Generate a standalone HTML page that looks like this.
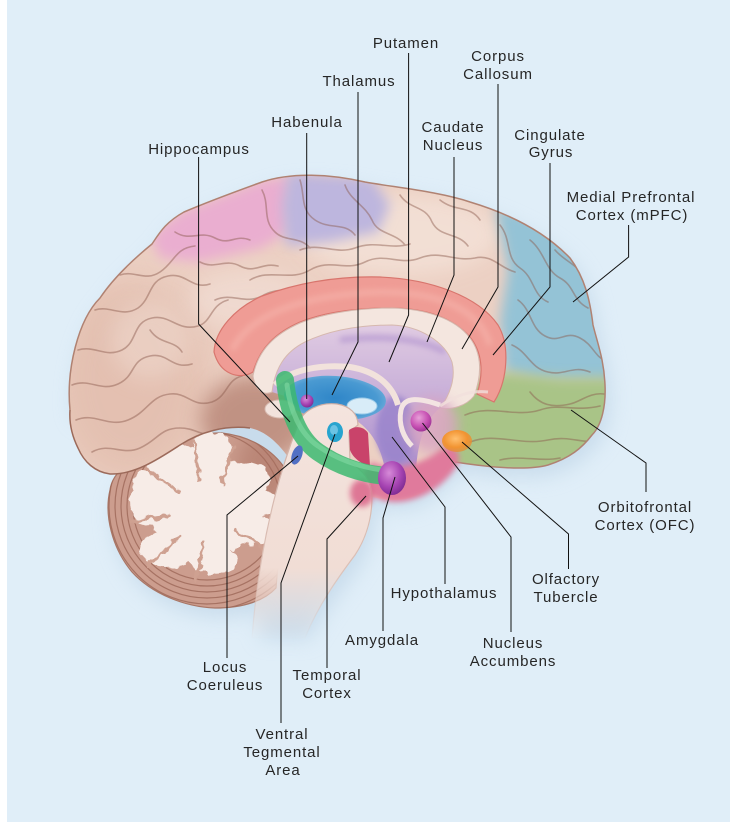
<!DOCTYPE html>
<html><head><meta charset="utf-8">
<style>
html,body{margin:0;padding:0;background:#e0eef8;overflow:hidden;}
svg{display:block;}
text{font-family:"Liberation Sans",Arial,sans-serif;font-size:15px;fill:#262626;letter-spacing:0.9px;text-anchor:middle;}
</style></head><body>
<svg width="730" height="824" viewBox="0 0 730 824" xmlns="http://www.w3.org/2000/svg">
<defs>
 <filter id="b3" x="-50%" y="-50%" width="200%" height="200%"><feGaussianBlur stdDeviation="3"/></filter>
 <filter id="b6" x="-50%" y="-50%" width="200%" height="200%"><feGaussianBlur stdDeviation="6"/></filter>
 <filter id="b10" x="-50%" y="-50%" width="200%" height="200%"><feGaussianBlur stdDeviation="10"/></filter>
 <filter id="b18" x="-50%" y="-50%" width="200%" height="200%"><feGaussianBlur stdDeviation="18"/></filter>
 <filter id="rough" x="-20%" y="-20%" width="140%" height="140%">
  <feTurbulence type="fractalNoise" baseFrequency="0.11" numOctaves="2" seed="4"/>
  <feDisplacementMap in="SourceGraphic" scale="9" xChannelSelector="R" yChannelSelector="G"/>
 </filter>
 <clipPath id="cer"><path d="M 70 410 C 66 370 78 320 100 298 C 112 280 130 262 152 244 C 160 232 166 222 184 212 C 212 200 240 190 262 182 C 292 172 330 174 365 182 C 400 188 440 192 470 202 C 510 214 545 232 570 258 C 585 278 590 300 593 325 C 598 345 604 360 605 385 C 606 405 602 425 592 435 C 582 448 570 458 548 465 C 530 470 500 469 455 462 C 440 480 420 500 395 500 C 372 500 360 492 350 482 L 300 475 C 285 450 270 432 250 428 C 225 425 200 432 180 445 C 160 458 135 475 110 474 C 95 472 84 462 78 448 C 72 436 69 424 70 410 Z"/></clipPath>
 <clipPath id="cbl"><path d="M 110 490 C 104 515 112 548 132 572 C 152 594 185 607 215 608 C 245 608 265 600 276 588 L 286 470 C 272 448 248 436 222 433 C 192 432 152 448 128 464 C 116 472 111 482 110 490 Z"/></clipPath>
 <linearGradient id="bsg" gradientUnits="userSpaceOnUse" x1="0" y1="400" x2="0" y2="640">
  <stop offset="0" stop-color="#f4e4de"/>
  <stop offset="0.7" stop-color="#f1ddd5"/>
  <stop offset="1" stop-color="#f1ddd5" stop-opacity="0"/>
 </linearGradient>
 <linearGradient id="bse" gradientUnits="userSpaceOnUse" x1="0" y1="400" x2="0" y2="640">
  <stop offset="0" stop-color="#cfaea4"/>
  <stop offset="0.7" stop-color="#dcc0b6"/>
  <stop offset="1" stop-color="#dcc0b6" stop-opacity="0"/>
 </linearGradient>
 <linearGradient id="purp" x1="0" y1="0" x2="0" y2="1">
  <stop offset="0" stop-color="#e0cbe2"/>
  <stop offset="0.5" stop-color="#c7aed8"/>
  <stop offset="1" stop-color="#a88ccc"/>
 </linearGradient>
 <radialGradient id="thal" cx="0.5" cy="0.5" r="0.6">
  <stop offset="0" stop-color="#2f86c8"/>
  <stop offset="0.7" stop-color="#4a9ad2"/>
  <stop offset="1" stop-color="#7fb6de"/>
 </radialGradient>
 <radialGradient id="dotp" cx="0.4" cy="0.35" r="0.7">
  <stop offset="0" stop-color="#d68ad8"/>
  <stop offset="0.6" stop-color="#a644b2"/>
  <stop offset="1" stop-color="#7b2a90"/>
 </radialGradient>
 <radialGradient id="dotm" cx="0.4" cy="0.35" r="0.7">
  <stop offset="0" stop-color="#e7a0d8"/>
  <stop offset="0.6" stop-color="#c852b4"/>
  <stop offset="1" stop-color="#9a3092"/>
 </radialGradient>
 <radialGradient id="doto" cx="0.45" cy="0.4" r="0.65">
  <stop offset="0" stop-color="#ffc070"/>
  <stop offset="0.6" stop-color="#f29432"/>
  <stop offset="1" stop-color="#e8862a" stop-opacity="0.6"/>
 </radialGradient>
</defs>

<rect width="730" height="824" fill="#e0eef8"/>
<rect width="7" height="824" fill="#ffffff"/>
<rect y="822" width="730" height="2" fill="#ffffff"/>

<!-- shadows -->
<g fill="#b9d0e4" opacity="0.6" filter="url(#b10)" transform="translate(5,9)">
 <path d="M 70 410 C 66 370 78 320 100 298 C 112 280 130 262 152 244 C 160 232 166 222 184 212 C 212 200 240 190 262 182 C 292 172 330 174 365 182 C 400 188 440 192 470 202 C 510 214 545 232 570 258 C 585 278 590 300 593 325 C 598 345 604 360 605 385 C 606 405 602 425 592 435 C 582 448 570 458 548 465 C 530 470 500 469 455 462 C 440 480 420 500 395 500 C 372 500 360 492 350 482 L 300 475 Z"/>
 <path d="M 110 490 C 104 515 112 548 132 572 C 152 594 185 607 215 608 C 245 608 265 600 276 588 L 286 470 C 272 448 248 436 222 433 C 192 432 152 448 128 464 Z"/>
 <path d="M 298 425 L 372 470 C 374 520 362 550 345 570 C 330 590 315 610 305 630 L 255 630 C 258 580 265 540 275 500 Z"/>
</g>

<!-- cerebellum -->
<path d="M 110 490 C 104 515 112 548 132 572 C 152 594 185 607 215 608 C 245 608 265 600 276 588 L 286 470 C 272 448 248 436 222 433 C 192 432 152 448 128 464 C 116 472 111 482 110 490 Z" fill="#cc9d8e" stroke="#a87666" stroke-width="1.2"/>
<g clip-path="url(#cbl)" fill="none" stroke="#9a6454" stroke-width="1.2" opacity="0.75">
 <circle cx="207" cy="506" r="74"/>
 <circle cx="207" cy="506" r="80"/>
 <circle cx="207" cy="506" r="86"/>
 <circle cx="207" cy="506" r="92"/>
 <circle cx="207" cy="506" r="98"/>
 <circle cx="207" cy="506" r="104"/>
</g>
<ellipse cx="265" cy="468" rx="28" ry="38" fill="#a87060" opacity="0.5" filter="url(#b10)" clip-path="url(#cbl)"/>
<g filter="url(#rough)" fill="#f7ece7">
 <ellipse cx="206" cy="505" rx="58" ry="50"/>
 <ellipse cx="245" cy="503" rx="35" ry="16"/>
 <ellipse cx="172" cy="462" rx="26" ry="20"/>
 <ellipse cx="212" cy="448" rx="20" ry="16"/>
 <ellipse cx="146" cy="498" rx="16" ry="28"/>
 <ellipse cx="168" cy="550" rx="28" ry="18"/>
 <ellipse cx="214" cy="560" rx="24" ry="14"/>
 <ellipse cx="252" cy="530" rx="22" ry="15"/>
 <ellipse cx="250" cy="480" rx="20" ry="17"/>
</g>
<g fill="none" stroke="#cfa191" stroke-width="3" stroke-linecap="round" filter="url(#rough)">
 <path d="M 146 468 L 180 492"/>
 <path d="M 130 522 L 170 515"/>
 <path d="M 194 442 L 199 480"/>
 <path d="M 234 446 L 222 484"/>
 <path d="M 196 580 L 204 542"/>
 <path d="M 148 566 L 180 536"/>
 <path d="M 270 554 L 236 530"/>
</g>

<!-- cerebrum -->
<g clip-path="url(#cer)">
 <rect x="60" y="160" width="560" height="350" fill="#ecd0c3"/>
 <ellipse cx="130" cy="380" rx="75" ry="100" fill="#dbb09f" opacity="0.5" filter="url(#b18)"/>
 <ellipse cx="255" cy="420" rx="55" ry="45" fill="#b27e6e" opacity="0.75" filter="url(#b10)"/>
 <ellipse cx="400" cy="235" rx="100" ry="40" fill="#f3e0d6" opacity="0.9" filter="url(#b10)"/>
 <ellipse cx="250" cy="300" rx="60" ry="30" fill="#f1ddd4" opacity="0.7" filter="url(#b10)"/>
 <ellipse cx="150" cy="340" rx="40" ry="40" fill="#f0dbd1" opacity="0.5" filter="url(#b10)"/>
 <path d="M 150 236 L 180 212 L 262 180 L 292 176 L 288 232 L 262 248 L 200 262 L 160 258 Z" fill="#eaaed0" filter="url(#b6)"/>
 <path d="M 288 172 L 372 178 L 390 205 L 378 232 L 330 242 L 286 246 L 282 205 Z" fill="#bdb6de" filter="url(#b6)"/>
 <path d="M 495 205 L 620 240 L 620 382 L 540 380 L 505 372 L 500 320 L 508 270 Z" fill="#94c3d6" filter="url(#b6)"/>
 <path d="M 446 390 L 505 372 L 560 378 L 620 378 L 620 480 L 450 475 L 440 430 Z" fill="#a9c487" filter="url(#b6)"/>
 <g fill="none" stroke="#8a5a4c" stroke-width="1.6" opacity="0.45" stroke-linecap="round">
  <path d="M 72 385 C 90 378 100 392 118 384 C 136 376 130 360 150 356 C 168 352 172 370 192 364"/>
  <path d="M 78 350 C 95 345 105 358 122 350 C 138 342 132 322 152 318 C 170 314 178 332 198 326 C 212 322 210 305 228 300"/>
  <path d="M 95 310 C 110 305 122 318 138 308 C 152 298 148 280 168 276 C 186 272 192 290 210 284"/>
  <path d="M 120 275 C 135 270 145 282 160 272 C 175 262 175 248 195 246"/>
  <path d="M 76 420 C 95 412 108 428 128 420 C 148 412 150 396 170 394 C 188 392 192 408 212 402 C 228 396 226 380 242 376"/>
  <path d="M 92 452 C 110 442 122 456 140 448 C 158 440 160 428 180 428 C 198 428 204 440 222 432"/>
  <path d="M 150 330 C 160 345 175 340 182 352"/>
  <path d="M 175 232 C 190 242 200 230 215 238 C 230 246 235 234 250 240"/>
  <path d="M 200 262 C 215 270 225 258 240 266 C 255 274 262 262 278 266"/>
  <path d="M 215 300 C 232 292 245 305 262 296 C 275 288 285 292 298 288"/>
  <path d="M 262 190 C 270 205 262 220 275 232 C 285 242 300 236 310 248"/>
  <path d="M 300 180 C 305 195 300 210 315 220 C 330 230 345 222 355 235"/>
  <path d="M 345 185 C 350 200 365 205 372 220 C 378 235 395 232 405 245"/>
  <path d="M 400 195 C 410 210 425 205 432 222 C 440 238 458 232 468 246"/>
  <path d="M 440 200 C 455 212 470 205 480 220"/>
  <path d="M 250 280 C 270 268 290 282 310 270 C 330 258 345 272 365 262 C 385 252 400 266 420 258 C 440 250 455 262 475 258 C 492 254 500 268 515 272"/>
  <path d="M 300 250 C 320 242 335 255 355 248 C 375 240 390 250 410 244"/>
  <path d="M 500 225 C 512 240 505 258 520 268 C 535 278 532 295 548 302"/>
  <path d="M 530 240 C 545 252 545 270 560 278 C 575 286 572 300 588 308"/>
  <path d="M 518 300 C 532 310 530 328 545 336 C 560 344 565 330 580 338 C 592 344 595 356 604 360"/>
  <path d="M 512 345 C 528 352 530 368 548 372 C 565 376 572 365 590 372"/>
  <path d="M 555 250 C 565 262 580 265 585 280"/>
  <path d="M 465 415 C 490 404 515 418 540 410 C 560 403 575 412 600 406"/>
  <path d="M 470 442 C 495 432 520 446 548 440 C 570 435 585 445 598 440"/>
  <path d="M 530 392 C 540 405 552 408 570 404 C 580 402 590 392 604 394"/>
  <path d="M 500 460 C 520 455 540 462 560 458"/>
 </g>
</g>
<path d="M 70 410 C 66 370 78 320 100 298 C 112 280 130 262 152 244 C 160 232 166 222 184 212 C 212 200 240 190 262 182 C 292 172 330 174 365 182 C 400 188 440 192 470 202 C 510 214 545 232 570 258 C 585 278 590 300 593 325 C 598 345 604 360 605 385 C 606 405 602 425 592 435 C 582 448 570 458 548 465 C 530 470 500 469 455 462" fill="none" stroke="#b08272" stroke-width="1.5"/>
<path d="M 250 428 C 225 425 200 432 180 445 C 160 458 135 475 110 474 C 95 472 84 462 78 448 C 72 436 69 424 70 410" fill="none" stroke="#9c6a5a" stroke-width="1.5"/>

<!-- cingulate -->
<path d="M 214 352 C 215 330 235 308 262 296 C 300 282 340 276 380 277 C 430 279 478 296 498 325 C 510 345 508 380 494 402 L 477 394 C 484 372 482 352 470 337 C 450 315 420 308 390 308 C 350 308 320 314 300 322 C 275 333 260 348 253 372 C 240 380 220 375 214 352 Z" fill="#ef9c95" stroke="#d8756d" stroke-width="1.2"/>
<path d="M 232 350 C 250 315 300 295 380 292 C 440 292 480 310 490 345" fill="none" stroke="#f7b7ae" stroke-width="6" opacity="0.6" filter="url(#b3)"/>

<!-- purple interior -->
<path d="M 272 392 C 275 368 285 352 305 342 C 330 330 360 325 392 325 C 420 326 445 342 452 362 C 456 378 450 395 440 408 C 425 420 418 440 416 470 L 385 470 C 380 440 365 420 335 410 C 310 402 290 398 272 392 Z" fill="url(#purp)"/>
<path d="M 340 340 C 380 335 420 338 445 352" fill="none" stroke="#b193cf" stroke-width="6" opacity="0.7" filter="url(#b3)"/>
<ellipse cx="396" cy="430" rx="20" ry="34" fill="#9a84cc" opacity="0.85" filter="url(#b3)"/>

<!-- corpus callosum -->
<path d="M 253 376 C 258 350 275 334 300 323 C 325 313 360 308 392 308 C 425 309 455 318 470 338 C 482 354 482 375 474 396 C 466 406 452 410 440 408 C 450 395 456 378 452 362 C 445 342 420 326 392 325 C 360 325 330 330 305 342 C 285 352 275 368 272 392 C 264 396 255 390 253 376 Z" fill="#f4e6df" stroke="#d6b8ae" stroke-width="1"/>

<!-- accumbens region & limbic pink -->
<ellipse cx="432" cy="425" rx="26" ry="28" fill="#d9a6c2" opacity="0.85" filter="url(#b6)"/>
<path d="M 372 462 C 390 472 420 466 440 450 C 452 442 462 450 458 464 C 445 486 420 502 395 502 C 375 502 362 490 360 478 Z" fill="#e07a9c" filter="url(#b3)"/>
<path d="M 440 405 C 420 398 404 396 401 410 C 398 425 404 438 412 446" fill="none" stroke="#f3e4e2" stroke-width="5"/>
<path d="M 440 406 C 455 396 470 390 488 392" fill="none" stroke="#f1e0dc" stroke-width="3" opacity="0.8"/>

<!-- thalamus -->
<ellipse cx="335" cy="398" rx="51" ry="22" fill="url(#thal)" transform="rotate(4 335 398)"/>
<ellipse cx="362" cy="406" rx="15" ry="8" fill="#d8ecf8" stroke="#9ccbe8" stroke-width="1"/>
<path d="M 275 385 C 290 370 320 364 350 367 C 375 371 392 384 398 405" fill="none" stroke="#f2e2dc" stroke-width="6"/>
<ellipse cx="280" cy="409" rx="15" ry="9" fill="#f2e2dc" stroke="#d8bcb2" stroke-width="1"/>

<!-- brainstem -->
<path d="M 298 425 C 302 410 320 402 337 404 C 350 406 358 414 358 425 L 349 432 L 350 462 C 362 470 372 480 372 497 C 372 520 365 540 355 555 C 340 575 318 605 305 638 L 252 638 C 256 585 264 540 274 500 C 282 468 290 445 298 425 Z" fill="url(#bsg)" stroke="url(#bse)" stroke-width="1.2"/>
<path d="M 349 430 C 356 425 364 427 368 433 L 370 466 C 361 464 353 458 350 450 Z" fill="#c9436a"/>
<ellipse cx="362" cy="493" rx="12" ry="14" fill="#dc6c8e" opacity="0.9" filter="url(#b3)"/>

<!-- hippocampus green -->
<path d="M 285 380 C 288 410 298 438 318 452 C 338 466 362 474 386 476" fill="none" stroke="#3cb870" stroke-width="18" stroke-linecap="round" opacity="0.85"/>
<path d="M 287 385 C 290 410 300 434 318 446 C 338 460 360 467 382 470" fill="none" stroke="#86dca6" stroke-width="5" stroke-linecap="round" opacity="0.55"/>

<!-- nuclei -->
<circle cx="307" cy="401" r="6.5" fill="url(#dotp)"/>
<ellipse cx="335" cy="432" rx="8" ry="10" fill="#27a4cf"/>
<ellipse cx="334" cy="430" rx="4" ry="5" fill="#7ccbe8" opacity="0.8"/>
<ellipse cx="297" cy="455" rx="5" ry="10" fill="#5270c4" transform="rotate(20 297 455)"/>
<ellipse cx="392" cy="478" rx="14" ry="17" fill="url(#dotp)"/>
<circle cx="421" cy="421" r="10.5" fill="url(#dotm)"/>
<ellipse cx="457" cy="441" rx="15" ry="11" fill="url(#doto)"/>

<!-- connector lines -->
<g fill="none" stroke="#111" stroke-width="1">
 <path d="M 198.6 157 V 324 L 290 422"/>
 <path d="M 306.7 133 V 399"/>
 <path d="M 358 92 V 342 L 332 395"/>
 <path d="M 408.6 53 V 315 L 389 362"/>
 <path d="M 454 157 V 275 L 427 342"/>
 <path d="M 498 84 V 287 L 462 349"/>
 <path d="M 550 163 V 287 L 493 355"/>
 <path d="M 628.6 225 V 257 L 573 302"/>
 <path d="M 571 410 L 646 463 V 492"/>
 <path d="M 462 442 L 568.5 534 V 569"/>
 <path d="M 422.5 423 L 511 537 V 632"/>
 <path d="M 392 437 L 445 507 V 584"/>
 <path d="M 395 477 L 383 518 V 631"/>
 <path d="M 366 496 L 327 539 V 668"/>
 <path d="M 335 434 L 281 583 V 723"/>
 <path d="M 298 456 L 227 515 V 658"/>
</g>

<!-- labels -->
<text x="406" y="48">Putamen</text>
<text x="498" y="61">Corpus</text>
<text x="498" y="79">Callosum</text>
<text x="359" y="86">Thalamus</text>
<text x="307" y="127">Habenula</text>
<text x="453" y="132">Caudate</text>
<text x="453" y="150">Nucleus</text>
<text x="199" y="154">Hippocampus</text>
<text x="550" y="140">Cingulate</text>
<text x="551" y="157">Gyrus</text>
<text x="631" y="202">Medial Prefrontal</text>
<text x="632" y="220">Cortex (mPFC)</text>
<text x="645" y="512">Orbitofrontal</text>
<text x="645" y="530">Cortex (OFC)</text>
<text x="566" y="584">Olfactory</text>
<text x="566" y="602">Tubercle</text>
<text x="513" y="648">Nucleus</text>
<text x="513" y="666">Accumbens</text>
<text x="444" y="598">Hypothalamus</text>
<text x="382" y="645">Amygdala</text>
<text x="327" y="680">Temporal</text>
<text x="327" y="698">Cortex</text>
<text x="225" y="672">Locus</text>
<text x="225" y="690">Coeruleus</text>
<text x="282" y="739">Ventral</text>
<text x="282" y="757">Tegmental</text>
<text x="283" y="775">Area</text>
</svg>
</body></html>
